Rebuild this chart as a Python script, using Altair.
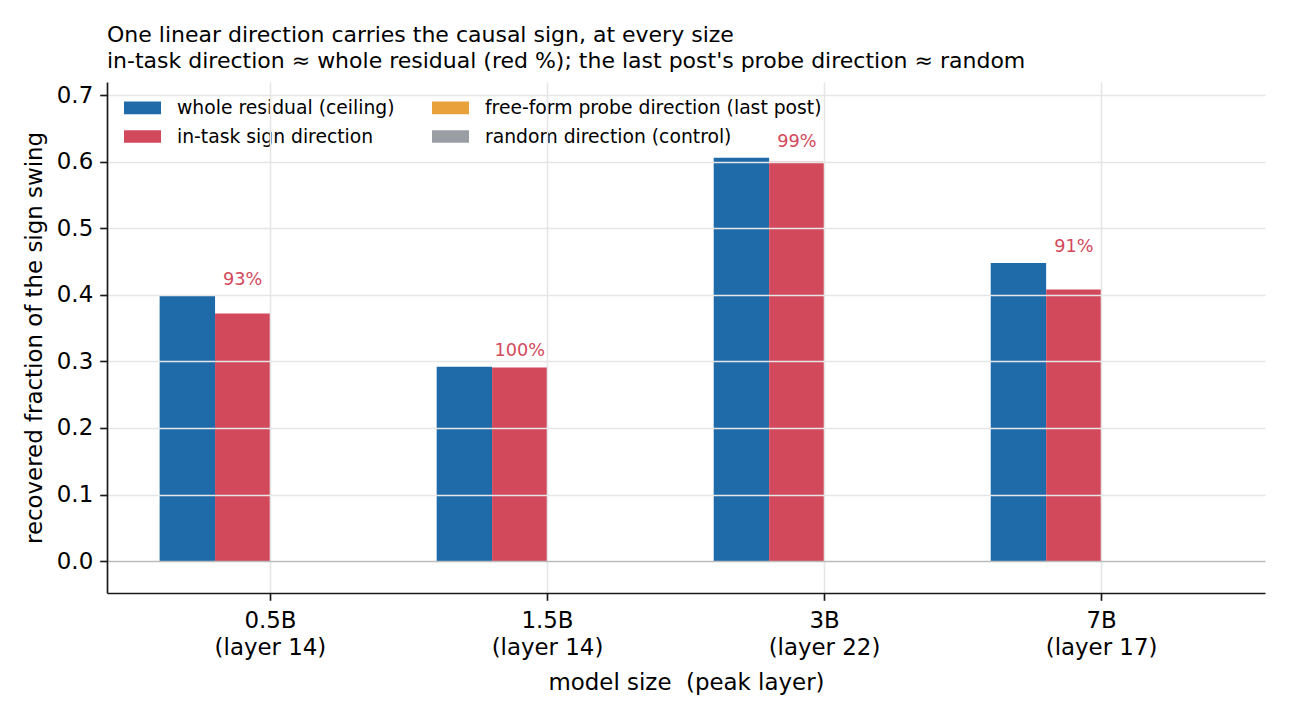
import altair as alt
import pandas as pd

models = ["0.5B\n(layer 14)", "1.5B\n(layer 14)", "3B\n(layer 22)", "7B\n(layer 17)"]
series_names = [
    "whole residual (ceiling)",
    "in-task sign direction",
    "free-form probe direction (last post)",
    "random direction (control)",
]
whole = [0.399, 0.292, 0.606, 0.448]
intask = [0.372, 0.291, 0.600, 0.408]
freeform = [0.0, 0.0, 0.0, 0.0]
randomdir = [0.0, 0.0, 0.0, 0.0]
pct_labels = ["93%", "100%", "99%", "91%"]
colors = ["#1f6aa8", "#d3495c", "#e9a23b", "#999ea4"]

rows = []
for name, vals in zip(series_names, [whole, intask, freeform, randomdir]):
    for m, v in zip(models, vals):
        rows.append({"model": m, "series": name, "value": v})
df = pd.DataFrame(rows)

lab = pd.DataFrame({"model": models, "label": pct_labels, "top": whole,
                    "series": ["in-task sign direction"] * 4})

FONT = "DejaVu Sans"
DARK = "#1a1a1a"

xscale = alt.Scale(domain=models, paddingInner=0, paddingOuter=0.09)
xoff_scale = alt.Scale(domain=series_names, paddingInner=0, paddingOuter=0.5)
yscale = alt.Scale(domain=[-0.048, 0.72], nice=False, zero=False)

xaxis = alt.Axis(
    title="model size \u00a0(peak layer)",
    labelAngle=0,
    labelExpr="split(datum.label, '\\n')",
    labelLineHeight=27,
    labelFontSize=22.9,
    labelColor="#000000",
    labelPadding=9,
    labelBaseline="top",
    bandPosition=0.5,
    grid=True,
    gridColor="#e6e6e6",
    gridWidth=1.6,
    domainColor=DARK,
    domainWidth=1.67,
    tickColor=DARK,
    tickWidth=1.67,
    tickSize=7.3,
    titleFontSize=22.9,
    titleFontWeight="normal",
    titleColor="#000000",
    titlePadding=12,
    zindex=1,
)

yaxis = alt.Axis(
    title="recovered fraction of the sign swing",
    values=[0, 0.1, 0.2, 0.3, 0.4, 0.5, 0.6, 0.7],
    format=".1f",
    grid=True,
    gridColor=alt.condition("datum.value === 0", alt.value("#bbbbbb"), alt.value("#e6e6e6")),
    gridWidth=1.6,
    labelFontSize=22.9,
    labelColor="#000000",
    labelPadding=7,
    domainColor=DARK,
    domainWidth=1.67,
    tickColor=DARK,
    tickWidth=1.67,
    tickSize=7.3,
    titleFontSize=22.9,
    titleFontWeight="normal",
    titleColor="#000000",
    titlePadding=10,
    zindex=1,
)

bars = alt.Chart(df).mark_bar(cornerRadius=0, strokeWidth=0).encode(
    x=alt.X("model:N", scale=xscale, axis=xaxis, sort=models),
    xOffset=alt.XOffset("series:N", scale=xoff_scale, sort=series_names),
    y=alt.Y("value:Q", scale=yscale, axis=yaxis),
    color=alt.Color(
        "series:N",
        scale=alt.Scale(domain=series_names, range=colors),
        legend=alt.Legend(
            title=None,
            orient="none",
            legendX=17,
            legendY=7,
            columns=2,
            columnPadding=37,
            rowPadding=-1,
            symbolType="M-1,-0.34H1V0.34H-1Z",
            symbolSize=1369,
            symbolStrokeWidth=0,
            symbolOpacity=1,
            labelFontSize=18.75,
            labelOffset=16,
            labelLimit=500,
            labelColor="#000000",
            padding=0,
        ),
    ),
)

texts = alt.Chart(lab).mark_text(
    fontSize=17.7, color="#d3495c", baseline="alphabetic", align="center", dy=-11
).encode(
    x=alt.X("model:N", scale=xscale, sort=models),
    xOffset=alt.XOffset("series:N", scale=xoff_scale),
    y=alt.Y("top:Q", scale=yscale),
    text="label:N",
)

chart = alt.layer(bars, texts).properties(
    width=1158,
    height=511,
    title=alt.TitleParams(
        text=["One linear direction carries the causal sign, at every size",
              "in-task direction \u2248 whole residual (red %); the last post's probe direction \u2248 random"],
        anchor="start",
        frame="group",
        fontSize=22,
        fontWeight="normal",
        color="#000000",
        lineHeight=26,
        offset=9,
        font=FONT,
    ),
    autosize=alt.AutoSizeParams(type="none"),
    padding={"left": 107, "top": 82, "right": 25, "bottom": 127},
).configure(font=FONT).configure_view(stroke=None)

chart.save("out.html", embed_options={"renderer": "svg", "actions": False})
